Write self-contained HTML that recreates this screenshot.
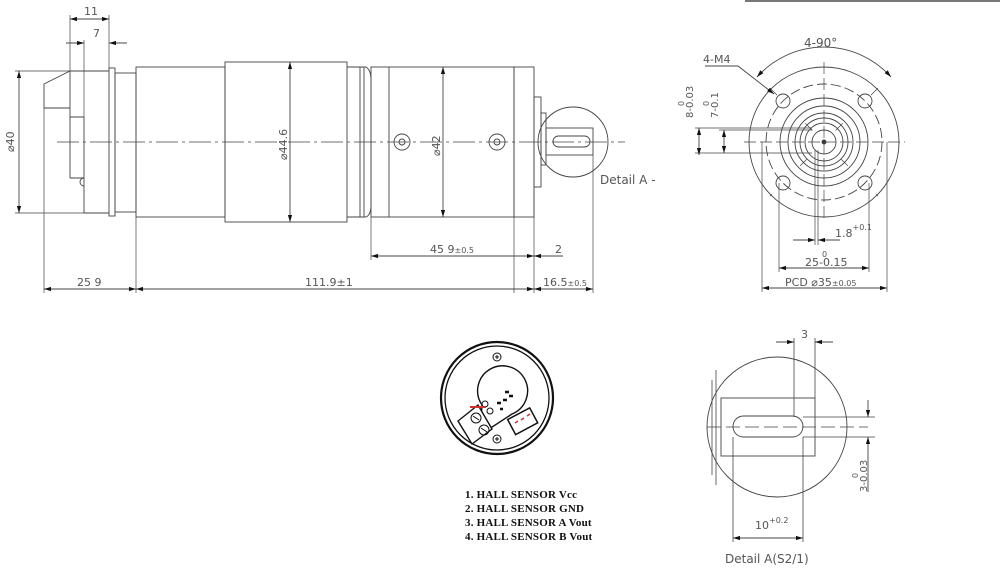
<!DOCTYPE html>
<html><head><meta charset="utf-8"><style>
html,body{margin:0;padding:0;background:#fff;}
svg{display:block;}
text{font-family:"DejaVu Sans","Liberation Sans",sans-serif;fill:#555;}
.b{font-family:"Liberation Serif",serif;font-weight:bold;fill:#111;font-size:11px;letter-spacing:0.2px;}
</style></head><body>
<svg width="1000" height="578" viewBox="0 0 1000 578" xmlns="http://www.w3.org/2000/svg">
<defs>
<marker id="a" viewBox="0 0 10 6" refX="10" refY="3" markerWidth="8" markerHeight="5" orient="auto-start-reverse"><path d="M0,0L10,3L0,6z" fill="#111"/></marker>
</defs>
<g fill="none" stroke="#444" stroke-width="0.9">
<path d="M70,71 L44,84 L44,108 L70,108"/>
<path d="M70,71 H109 M70,71 V178 M84,117 V213 M84,213 H109 M70,117 H84 M70,178 H84"/>
<path d="M84,178 a4,4 0 0 0 0,8"/>
<rect x="109" y="68" width="6" height="148"/>
<rect x="115" y="73" width="21" height="139"/>
<rect x="136" y="67" width="89" height="150"/>
<rect x="225" y="62" width="122" height="160"/>
<path d="M347,67 H366 Q371,70 371,80 V205 Q371,215 366,217 H347 M360,67 V217 M364,67 V217"/>
<rect x="371" y="67" width="143" height="150"/>
<path d="M389,67 V217"/>
<rect x="514" y="67" width="20" height="150"/>
<rect x="534" y="97" width="7" height="90"/>
<rect x="541" y="113" width="5" height="52"/>
<rect x="546" y="128" width="47" height="27"/>
<rect x="553" y="136" width="37" height="11" rx="5.5"/>
<circle cx="573" cy="142" r="35"/>
<circle cx="402" cy="142" r="8"/><circle cx="402" cy="142" r="3"/>
<circle cx="497" cy="142" r="8"/><circle cx="497" cy="142" r="3"/>
<path d="M57,142 H625" stroke-dasharray="22,4,3,4" stroke-width="0.8"/>
<path d="M70,15 V72 M109,15 V68" stroke-width="0.7"/>
<path d="M70,19 H109" marker-start="url(#a)" marker-end="url(#a)"/>
<path d="M66,43 H84" marker-end="url(#a)"/><path d="M127,43 H109" marker-end="url(#a)"/>
<path d="M84,40 V117" stroke-width="0.7"/>
<path d="M15,71 H70 M15,213 H84" stroke-width="0.7"/>
<path d="M19,71 V213" marker-start="url(#a)" marker-end="url(#a)"/>
<path d="M290,62 V222" marker-start="url(#a)" marker-end="url(#a)"/>
<path d="M443,67 V217" marker-start="url(#a)" marker-end="url(#a)"/>
<path d="M44,108 V293 M136,217 V293 M371,217 V260 M514,217 V293 M534,187 V293 M593,155 V293" stroke-width="0.7"/>
<path d="M371,256 H534" marker-start="url(#a)" marker-end="url(#a)"/>
<path d="M563,256 H534" marker-end="url(#a)"/>
<path d="M44,289 H136" marker-start="url(#a)" marker-end="url(#a)"/>
<path d="M136,289 H534" marker-start="url(#a)" marker-end="url(#a)"/>
<path d="M534,289 H593" marker-start="url(#a)" marker-end="url(#a)"/>
<path d="M745,1 H1000" stroke="#777" stroke-width="2"/>
<circle cx="824" cy="142" r="75"/>
<circle cx="824" cy="142" r="58" stroke-dasharray="10,4"/>
<circle cx="824" cy="142" r="44"/>
<circle cx="824" cy="142" r="36"/>
<circle cx="824" cy="142" r="29"/>
<circle cx="824" cy="142" r="24"/>
<circle cx="824" cy="142" r="19"/>
<circle cx="824" cy="142" r="12"/>
<circle cx="824" cy="142" r="2" fill="#333"/>
<circle cx="783" cy="101" r="7"/><circle cx="865" cy="101" r="7"/>
<circle cx="783" cy="183" r="7"/><circle cx="865" cy="183" r="7"/>
<path d="M744,142 H905 M824,62 V222" stroke-dasharray="12,4" stroke-width="0.7"/>
<path d="M770,88 L878,196 M878,88 L770,196" stroke-dasharray="10,40" stroke-width="0.7"/>
<path d="M757,77 A90,90 0 0 1 891,77" marker-start="url(#a)" marker-end="url(#a)"/>
<path d="M705,66 H738 L774,94" marker-end="url(#a)"/>
<path d="M695,128 H812 M695,153 H812 M719,130 H812" stroke-width="0.7"/>
<path d="M699,128 V155" marker-start="url(#a)" marker-end="url(#a)"/>
<path d="M724,130 V153" marker-start="url(#a)" marker-end="url(#a)"/>
<path d="M762,142 V292 M887,142 V292 M779,183 V272 M869,183 V272 M815,150 V245 M818,150 V245" stroke-width="0.7"/>
<path d="M793,240 H815" marker-end="url(#a)"/><path d="M840,240 H818" marker-end="url(#a)"/>
<path d="M779,268 H869" marker-start="url(#a)" marker-end="url(#a)"/>
<path d="M762,288 H887" marker-start="url(#a)" marker-end="url(#a)"/>
<circle cx="777" cy="427" r="70"/>
<rect x="721" y="398" width="94" height="58"/>
<path d="M712,380 V475 M716,370 V485" stroke-width="0.8"/>
<rect x="733" y="416" width="70" height="21" rx="10.5"/>
<path d="M707,427 H868" stroke-dasharray="14,5" stroke-width="0.8"/>
<path d="M803,417 H875 M803,437 H875" stroke-width="0.8"/>
<path d="M794,338 V417 M815,338 V398" stroke-width="0.8"/>
<path d="M776,342 H794" marker-end="url(#a)"/><path d="M833,342 H815" marker-end="url(#a)"/>
<path d="M868,400 V417" marker-end="url(#a)"/><path d="M868,492 V437" marker-end="url(#a)"/>
<path d="M733,437 V542 M803,437 V542" stroke-width="0.8"/>
<path d="M733,538 H803" marker-start="url(#a)" marker-end="url(#a)"/>
</g>
<g fill="none" stroke="#111">
<circle cx="497" cy="398" r="56" stroke-width="2.2"/>
<circle cx="497" cy="398" r="52" stroke-width="1.3"/>
<path d="M482,405 A25,25 0 1 1 512,414 L480,435 Z" stroke-width="1.4"/>
<path d="M458,421 L478,405 L492,429 L472,444 Z" stroke-width="1.4" fill="#fff"/>
<circle cx="476" cy="418" r="5"/><circle cx="484" cy="430" r="5"/>
<path d="M473,416 l6,4 M481,428 l6,4"/>
<circle cx="490" cy="411" r="3"/><circle cx="485" cy="404" r="3"/>
<circle cx="497" cy="357" r="4"/><path d="M495,357 h4 M497,355 v4"/>
<circle cx="497" cy="439" r="4"/><path d="M495,439 h4 M497,437 v4"/>
<rect x="510" y="413" width="25" height="17" transform="rotate(-28 522 421)" stroke-width="1.5"/>
<path d="M515,423 l3,-2 M521,420 l3,-2 M527,416 l3,-2" stroke="#c33" stroke-width="1.5"/>
<path d="M497,403 h4 M503,400 h4 M509,396 h4 M505,392 h4 M500,409 h3" stroke-width="2.5"/>
<path d="M470,407 h16" stroke="#c33" stroke-width="2"/>
</g>
<g font-size="11">
<text x="84" y="15">11</text>
<text x="93" y="37">7</text>
<text transform="translate(14,152) rotate(-90)">⌀40</text>
<text transform="translate(287,160) rotate(-90)">⌀44.6</text>
<text transform="translate(440,156) rotate(-90)">⌀42</text>
<text x="430" y="253">45 9<tspan font-size="8">±0.5</tspan></text>
<text x="555" y="253">2</text>
<text x="77" y="286">25 9</text>
<text x="305" y="286">111.9±1</text>
<text x="543" y="286">16.5<tspan font-size="8">±0.5</tspan></text>
<text x="600" y="184" font-size="12">Detail A -</text>
<text x="804" y="47" font-size="12">4-90°</text>
<text x="703" y="63" font-size="11">4-M4</text>
<text transform="translate(693,118) rotate(-90)" font-size="10">8-0.03</text>
<text transform="translate(684,106) rotate(-90)" font-size="8">0</text>
<text transform="translate(718,118) rotate(-90)" font-size="10">7-0.1</text>
<text transform="translate(709,106) rotate(-90)" font-size="8">0</text>
<text x="835" y="237">1.8<tspan font-size="8" dy="-7">+0.1</tspan></text>
<text x="822" y="257" font-size="8">0</text>
<text x="805" y="266">25-0.15</text>
<text x="785" y="286">PCD ⌀35<tspan font-size="8">±0.05</tspan></text>
<text x="801" y="338">3</text>
<text transform="translate(867,492) rotate(-90)" font-size="10">3-0.03</text>
<text transform="translate(858,478) rotate(-90)" font-size="8">0</text>
<text x="755" y="529">10<tspan font-size="8" dy="-6">+0.2</tspan></text>
<text x="725" y="563" font-size="12">Detail A(S2/1)</text>
</g>
<text class="b" x="465" y="498">1. HALL  SENSOR  Vcc</text>
<text class="b" x="465" y="512">2. HALL  SENSOR  GND</text>
<text class="b" x="465" y="526">3. HALL  SENSOR  A  Vout</text>
<text class="b" x="465" y="540">4. HALL  SENSOR  B  Vout</text>
</svg>
</body></html>
